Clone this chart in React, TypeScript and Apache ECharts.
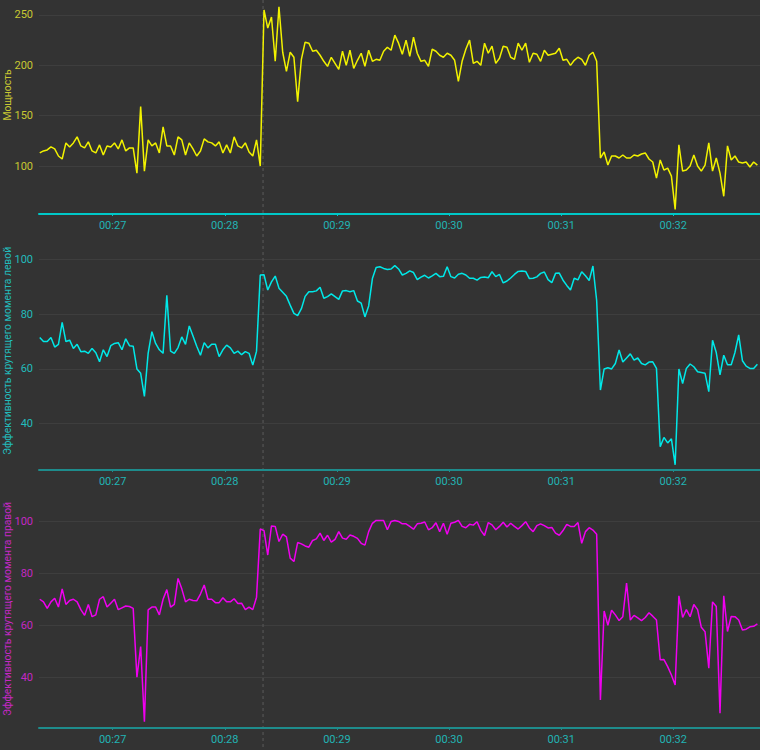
import { useEffect, useRef } from 'react'
import * as echarts from 'echarts'

// samples every 2 s, first one at 00:26:21 (seconds of the session clock)
const T0 = 1581
const STEP = 2
const X_MIN = 1580.6 / 60
const X_MAX = 1966.4 / 60
const CURSOR = 1700.5 / 60 // hovered moment, drawn as a dashed line over all panels

const minuteTicks = [27, 28, 29, 30, 31, 32]
const powerTicks = [100, 150, 200, 250]
const effTicks = [40, 60, 80, 100]

const power = [
  113, 115, 116, 119, 117, 110, 107, 123, 119, 123,
  129, 120, 118, 124, 115, 113, 121, 111, 120, 119,
  123, 117, 126, 115, 118, 118, 93, 159, 95, 126,
  120, 123, 113, 139, 120, 120, 111, 129, 126, 111,
  123, 117, 110, 115, 127, 124, 123, 120, 124, 113,
  121, 113, 129, 120, 118, 123, 114, 110, 126, 100,
  255, 237, 248, 204, 258, 213, 194, 213, 208, 164,
  206, 223, 222, 214, 215, 210, 204, 199, 208, 202,
  196, 214, 200, 215, 197, 205, 212, 199, 215, 204,
  206, 205, 214, 218, 215, 230, 222, 211, 225, 209,
  228, 212, 204, 205, 199, 216, 214, 210, 208, 212,
  210, 205, 184, 204, 216, 225, 202, 204, 200, 222,
  212, 219, 202, 207, 219, 218, 208, 206, 222, 215,
  222, 203, 212, 211, 204, 215, 210, 211, 212, 217,
  205, 206, 200, 205, 208, 206, 200, 210, 213, 204,
  108, 114, 101, 110, 110, 108, 111, 108, 108, 111,
  110, 112, 113, 107, 104, 88, 106, 96, 98, 90,
  57, 121, 95, 96, 100, 111, 100, 95, 101, 123,
  95, 108, 93, 70, 120, 106, 110, 104, 103, 104,
  99, 104, 101,
]

const effLeft = [
  71.5, 70, 70, 71.5, 68, 69, 77, 70, 70.5, 67.5,
  69, 66.3, 66.5, 65.7, 67.5, 65.9, 62.6, 67, 64.5, 68.5,
  69.3, 69.6, 67, 71, 68.5, 68.3, 60, 58.4, 50, 65.7,
  73.6, 69.3, 67, 65.7, 86.9, 66.5, 65.7, 67.8, 71.7, 69,
  75.7, 72, 68.3, 65, 69.6, 67.7, 69, 69, 64.5, 67,
  68.7, 67.7, 65.7, 66.5, 65.2, 66.3, 65.7, 61.4, 66.5, 94.3,
  94.4, 88.8, 91.8, 93.9, 89.5, 88, 86.5, 83.3, 80.3, 79.5,
  82, 86.5, 88.2, 88.2, 88.5, 89.8, 85.8, 86.4, 87.4, 86.4,
  85.4, 88.5, 88.6, 88.2, 88.6, 84.8, 84, 79, 83, 93,
  97, 97.3, 96.7, 96.3, 96.5, 97.7, 96.5, 94.3, 94.9, 95.8,
  95.2, 92.6, 93.5, 94.2, 93.2, 94, 94.9, 93.7, 93.8, 97.3,
  93.7, 93.2, 94.6, 94.9, 94.3, 93.1, 93.1, 92.4, 93.4, 93.6,
  93.3, 95.5, 93.7, 94.5, 91.4, 92.1, 93.2, 94.5, 95.6, 95.8,
  95.6, 93, 93.1, 93.6, 94.9, 95.4, 92.6, 91.5, 94.9, 95,
  92.4, 90.5, 88.8, 93.1, 92.5, 95.5, 94, 92.3, 97.6, 85,
  52.3, 60, 60.4, 60, 62, 66.9, 62.5, 64, 65.5, 63.2,
  64, 62, 61.5, 62.5, 62.6, 60.2, 31.6, 35, 33, 34.5,
  25, 60, 54.7, 60.2, 61.8, 60.8, 59, 58.7, 58.4, 51.7,
  70.5, 66, 57.8, 65, 61.5, 61.5, 66, 72.4, 63, 61,
  60.2, 60.2, 61.7,
]

const effRight = [
  70, 69, 66.5, 69, 70.4, 67, 74, 68, 69.5, 70,
  69, 66, 63.8, 68, 63.3, 64, 70, 71, 67, 68.5,
  70, 66, 66.7, 67.4, 67.2, 66.5, 40, 51.8, 22.9, 65.9,
  67, 67, 64, 70, 73.7, 67, 68, 78, 74, 69,
  70, 69.5, 69.4, 72, 75.5, 70, 70, 68.7, 68.7, 70.6,
  69, 69, 70.2, 68.4, 68.5, 66, 67, 66, 70.8, 97,
  96.4, 87, 98.2, 98, 92.2, 95, 94, 85.8, 84.5, 91.8,
  91.3, 90.5, 90, 92.6, 93.2, 95.4, 92.6, 94.6, 92, 93,
  96, 93.5, 93.1, 94.7, 94.2, 93.4, 91.5, 90.8, 96, 99.2,
  100.3, 100.3, 100.3, 96.7, 99.9, 100.3, 99.9, 99, 99, 98,
  96.9, 99, 99.2, 99.7, 96.7, 97.5, 99.4, 96, 99.2, 95,
  99.2, 99.6, 100.3, 98, 97.5, 98.8, 98.5, 99.8, 96.5, 94.5,
  99.5, 98.6, 96.7, 98, 99.6, 97.8, 99.2, 98, 97, 98.3,
  99.8, 97.4, 96, 98.3, 99, 98.3, 97.4, 97.6, 95.4, 94.6,
  96.4, 98.8, 98, 98, 99.5, 91.5, 96, 97.5, 96.6, 95,
  31.3, 65.5, 60, 65.8, 64, 61.8, 63.3, 76.2, 62, 63.8,
  62.8, 61.8, 63, 64.8, 63.5, 62, 46.7, 46.8, 44.1, 40.9,
  37, 71.3, 63, 66, 63.3, 68, 66, 59.2, 57.5, 43.5,
  69, 67.2, 26.2, 71.3, 57.6, 63.4, 63.3, 62, 58.2, 58.5,
  59.4, 59.6, 60.5,
]

const FONT = 'Roboto, "Open Sans", sans-serif'

const panels = [
  { name: 'Мощность', data: power, line: '#f2f200', text: '#c8c832', axis: '#00c8c8', min: 52.4, max: 288.7, ticks: powerTicks, top: -24 },
  { name: 'Эффективность крутящего момента левой', data: effLeft, line: '#00e8e8', text: '#22bcbc', axis: '#1e8c8c', min: 23.1, max: 110, ticks: effTicks, top: 232 },
  { name: 'Эффективность крутящего момента правой', data: effRight, line: '#f000f0', text: '#c428c4', axis: '#1e8c8c', min: 20.5, max: 112, ticks: effTicks, top: 490 },
]

const pad = (n: number) => String(Math.round(n)).padStart(2, '0')

export default function App() {
  const ref = useRef<HTMLDivElement>(null)

  useEffect(() => {
    document.body.style.margin = '0'
    document.body.style.background = '#333333'
    if (!ref.current) return
    const chart = echarts.init(ref.current, undefined, { renderer: 'svg' })

    const times = power.map((_, i) => (T0 + STEP * i) / 60)

    chart.setOption({
      backgroundColor: '#333333',
      animation: false,
      textStyle: { fontFamily: FONT },
      grid: panels.map(p => ({
        left: 39, right: 0, top: p.top, height: 238,
        containLabel: false, outerBoundsMode: 'none',
      })),
      xAxis: panels.map((p, k) => ({
        type: 'value',
        gridIndex: k,
        min: X_MIN,
        max: X_MAX,
        axisLine: { show: true, onZero: false, lineStyle: { color: p.axis, width: 2 } },
        axisTick: { show: true, customValues: minuteTicks, length: 2, lineStyle: { color: p.axis } },
        axisLabel: {
          customValues: minuteTicks,
          color: '#22b4b4',
          fontSize: 11,
          fontFamily: FONT,
          margin: 6,
          formatter: (v: number) => `00:${pad(v)}`,
        },
        splitLine: { show: false },
      })),
      yAxis: panels.map((p, k) => ({
        type: 'value',
        gridIndex: k,
        min: p.min,
        max: p.max,
        name: p.name,
        nameLocation: 'middle',
        nameGap: 27,
        nameMoveOverlap: false,
        nameTextStyle: { color: p.text, fontSize: 10.3, fontFamily: FONT },
        axisLine: { show: false },
        axisTick: { show: false, customValues: p.ticks },
        axisLabel: { customValues: p.ticks, color: p.text, fontSize: 11, fontFamily: FONT, margin: 6 },
        splitLine: { show: true, lineStyle: { color: '#3e3e3e', width: 1 } },
      })),
      series: panels.map((p, k) => ({
        type: 'line',
        xAxisIndex: k,
        yAxisIndex: k,
        data: p.data.map((v, i) => [times[i], v]),
        showSymbol: false,
        symbol: 'none',
        lineStyle: { color: p.line, width: 1.5 },
        itemStyle: { color: p.line },
      })),
    })

    const cx = chart.convertToPixel({ xAxisIndex: 0 }, CURSOR) as number
    chart.setOption({
      graphic: [{
        type: 'line',
        silent: true,
        z: 0,
        shape: { x1: cx, y1: 0, x2: cx, y2: 750 },
        style: { stroke: '#4e4e4e', lineWidth: 1.5, lineDash: [3, 3] },
      }],
    })

    return () => chart.dispose()
  }, [])

  return <div ref={ref} style={{ width: 760, height: 750 }} />
}
